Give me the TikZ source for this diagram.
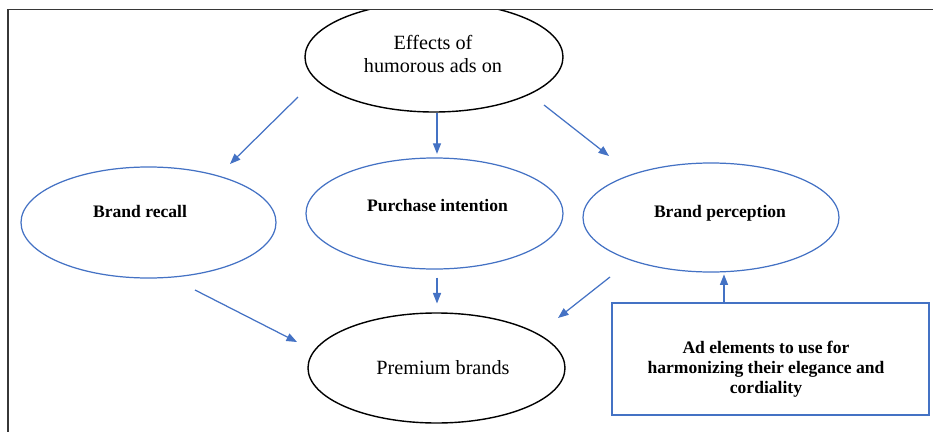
\documentclass[tikz,border=0pt]{standalone}
\usepackage{fontspec}
\setmainfont{Liberation Serif}
\usepackage{tikz}
\usetikzlibrary{shapes,arrows,arrows.meta}
\definecolor{wordblue}{RGB}{68,114,196}
\definecolor{framegray}{RGB}{55,55,55}

\begin{document}
\begin{tikzpicture}[x=0.2mm,y=-0.2mm,
    bubble/.style={ellipse,draw=wordblue,line width=0.7pt,inner sep=0pt},
    blackbubble/.style={ellipse,draw=black,line width=0.8pt,inner sep=0pt},
    boldtxt/.style={font=\fontsize{10}{11.5}\selectfont\bfseries,align=center,inner sep=0pt},
    plaintxt/.style={font=\fontsize{11.5}{13}\selectfont,align=center,inner sep=0pt},
    link/.style={draw=wordblue,line width=0.7pt,-{Triangle[length=6pt,width=4.6pt]}}]
    \useasboundingbox (0,0) rectangle (933,432);

    % Draw the ellipses
    \node[blackbubble,minimum width=5.16cm,minimum height=2.2cm] (effects) at (434,57) {};
    \node[bubble,minimum width=5.1cm,minimum height=2.22cm] (recall) at (148.5,222.5) {};
    \node[bubble,minimum width=5.14cm,minimum height=2.22cm] (purchase) at (434.5,213.5) {};
    \node[bubble,minimum width=5.12cm,minimum height=2.18cm] (perception) at (711,217.5) {};
    \node[blackbubble,minimum width=5.14cm,minimum height=2.2cm] (premium) at (436.5,368) {};
    \node[draw=wordblue,line width=0.7pt,minimum width=6.34cm,minimum height=2.24cm] (advice) at (770.5,359) {};

    % Texts
    \node[plaintxt] (effects-txt) at (433,54) {Effects of\\humorous ads on};
    \node[boldtxt] (recall-txt) at (140,211) {Brand recall};
    \node[boldtxt] (purchase-txt) at (437.5,206) {Purchase intention};
    \node[boldtxt] (perception-txt) at (720,213) {Brand perception};
    \node[plaintxt] (premium-txt) at (443,368) {Premium brands};
    \node[boldtxt] (advice-txt) at (766,369) {Ad elements to use for\\harmonizing their elegance and\\cordiality};

    % Page frame over the top ellipse
    \fill[white] (0,0) rectangle (933,9);
    \draw[framegray,line width=0.9pt] (8,432) -- (8,9.5) -- (933,9.5);

    % Arrow ends
    \coordinate (r1) at (298,97);
    \coordinate (r2) at (230,164);
    \coordinate (p1) at (544,105);
    \coordinate (p2) at (609,156);
    \coordinate (q1) at (195,290);
    \coordinate (q2) at (297,342);
    \coordinate (s1) at (610,277);
    \coordinate (s2) at (558,318);
    \coordinate (vx) at (437,0);
    \coordinate (upx) at (724,0);

    % Draw the arrows
    \draw[link] (r1) -- (r2);
    \draw[link,shorten >=2pt] (effects.south -| vx) -- (purchase.north -| vx);
    \draw[link] (p1) -- (p2);
    \draw[link] (q1) -- (q2);
    \draw[link,shorten <=4.5pt,shorten >=5pt] (purchase.south -| vx) -- (premium.north -| vx);
    \draw[link] (s1) -- (s2);
    \draw[link,shorten >=1pt] (advice.north -| upx) -- (perception.south -| upx);

\end{tikzpicture}
\end{document}
